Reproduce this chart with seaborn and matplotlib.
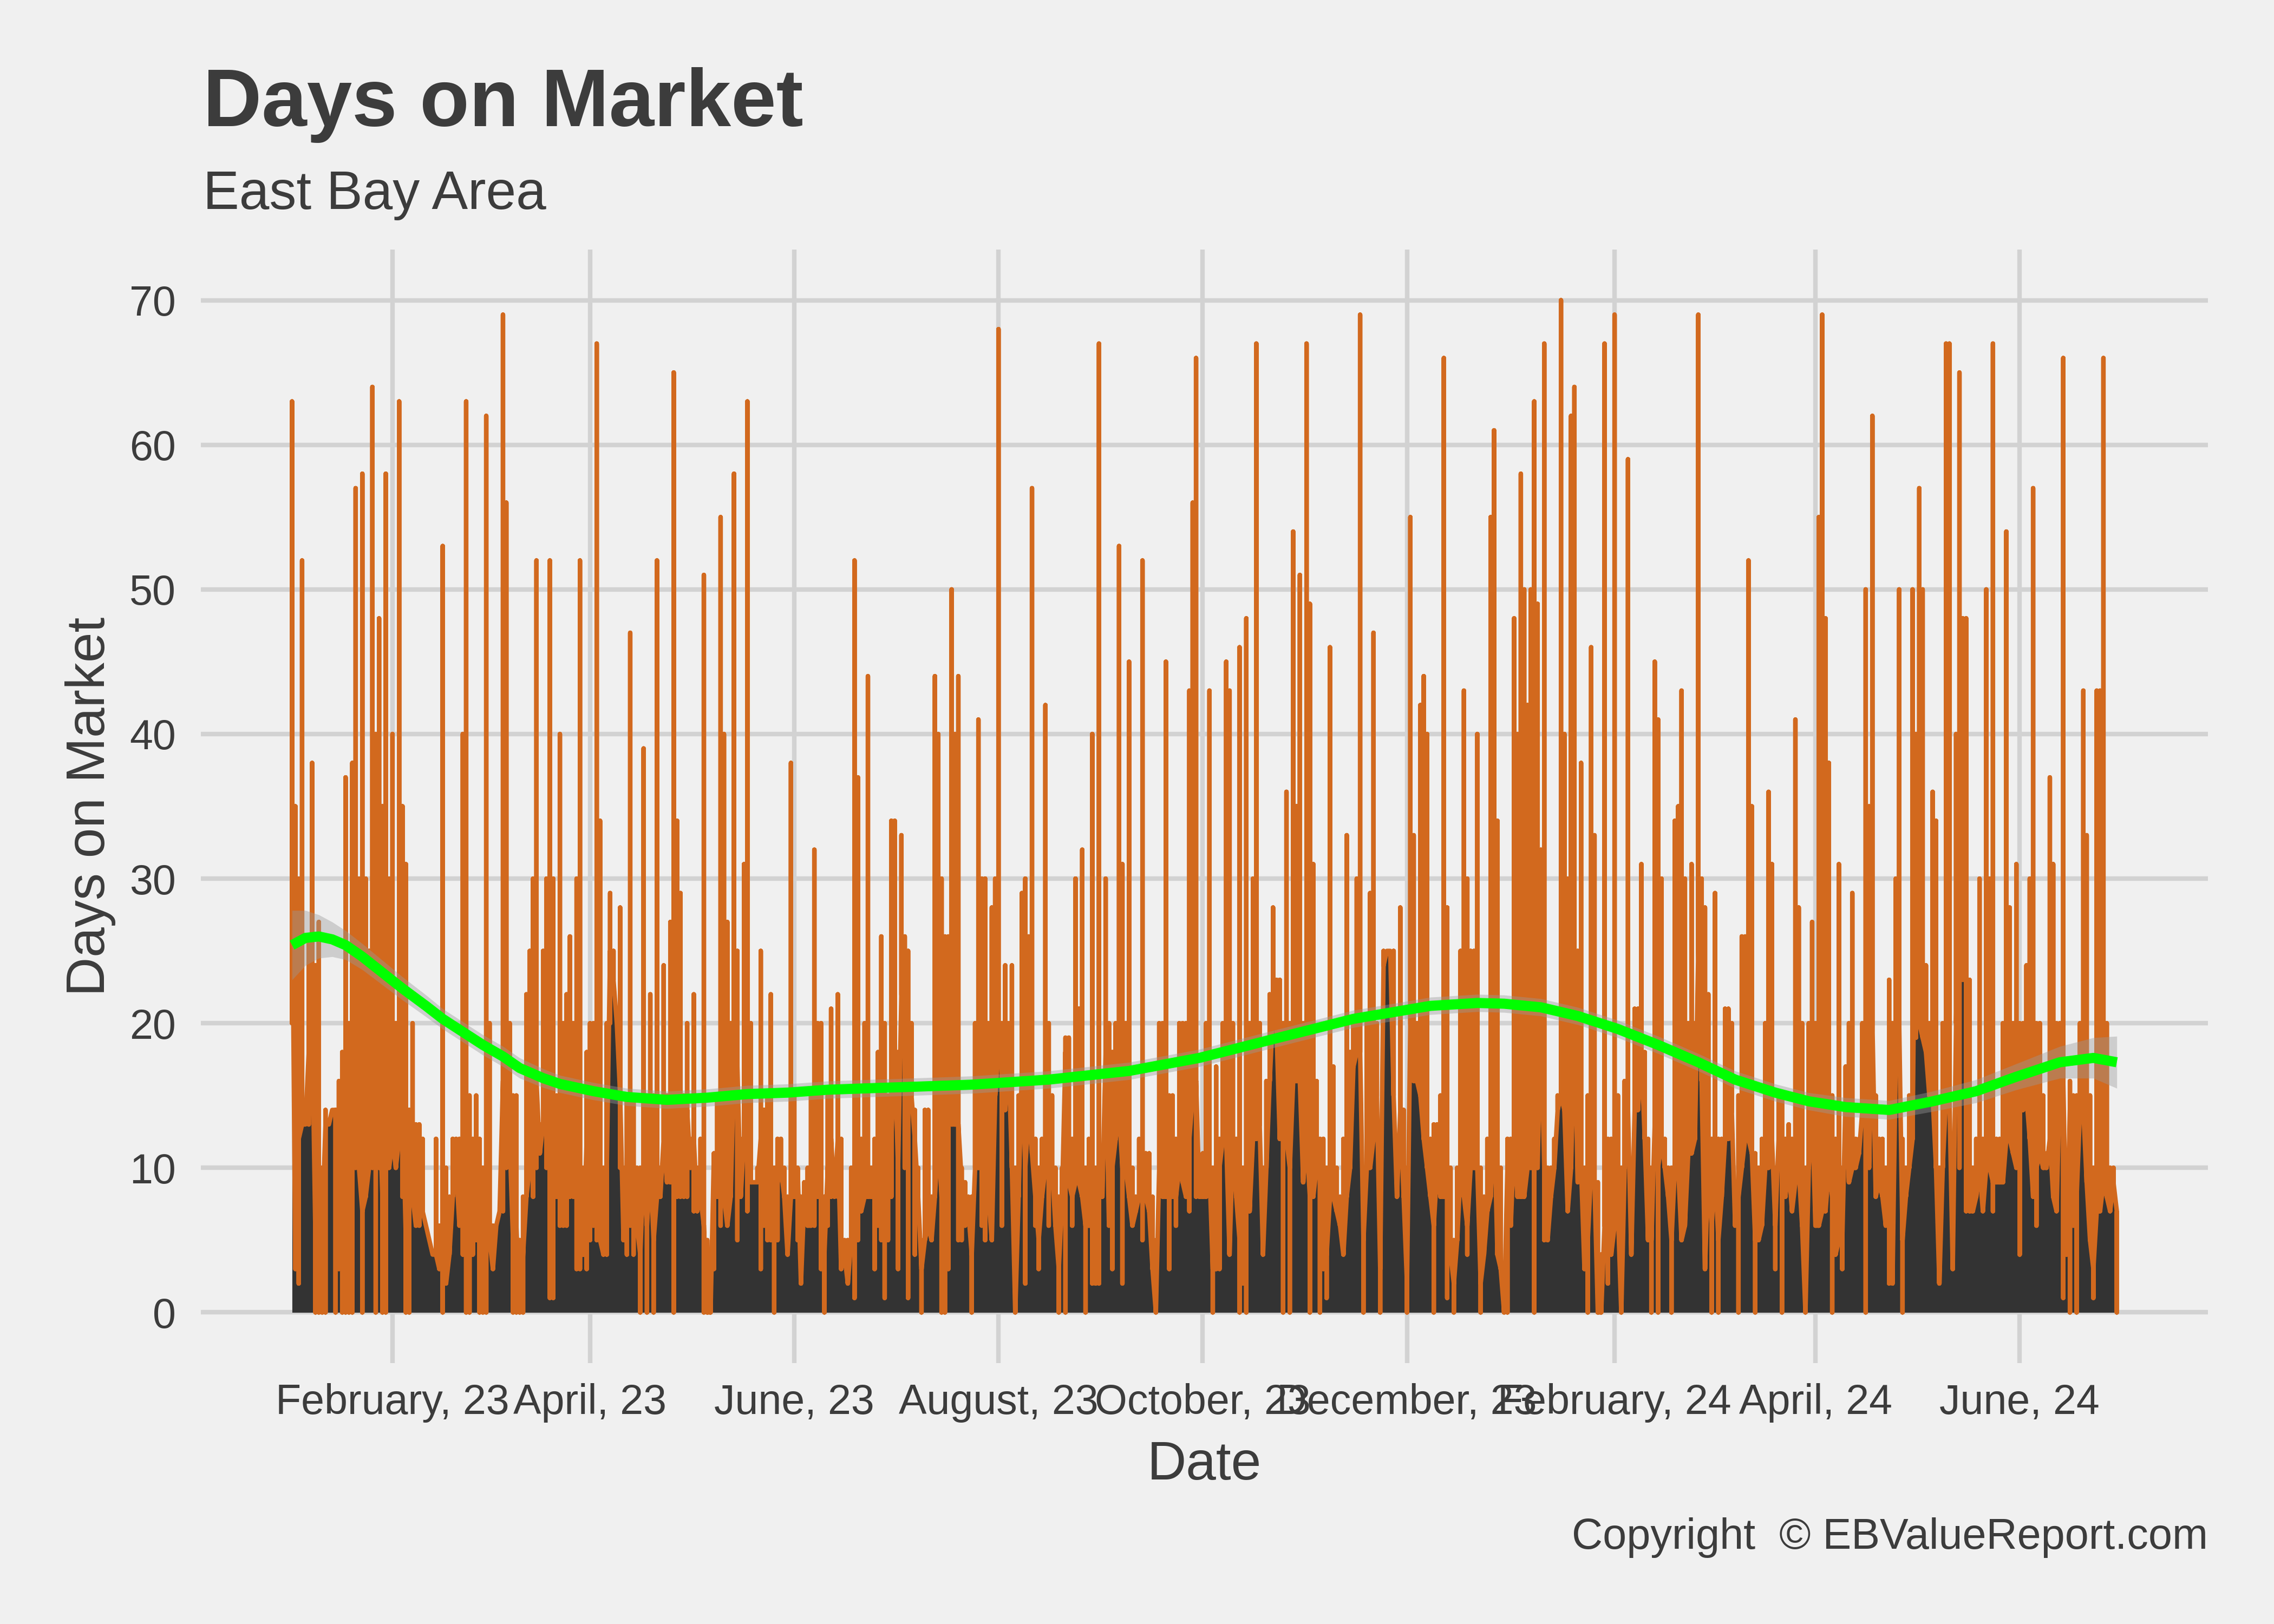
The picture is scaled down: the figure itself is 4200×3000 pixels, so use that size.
import numpy as np
import pandas as pd
import seaborn as sns
import matplotlib.pyplot as plt
import matplotlib.dates as mdates

start_date = "2023-01-02"

# daily Days on Market, one value per day from start_date
# dom_level = value the line passes between days, dom_high / dom_low = daily extremes
dom_level = [
    31, 3, 12, 13, 13, 18, 20, 5, 8, 6,
    13, 13, 14, 14, 3, 5, 10, 10, 13, 15,
    10, 7, 8, 10, 20, 10, 15, 8, 10, 10,
    12, 10, 12, 15, 5, 14, 8, 6, 10, 7,
    6, 5, 4, 4, 3, 5, 2, 4, 8, 10,
    6, 8, 6, 4, 8, 10, 6, 6, 8, 5,
    3, 6, 7, 16, 16, 12, 5, 6, 0, 4,
    8, 10, 12, 16, 11, 13, 14, 18, 10, 8,
    10, 6, 10, 17, 8, 8, 10, 4, 12, 13,
    6, 10, 5, 4, 10, 25, 23, 20, 15, 5,
    10, 6, 8, 6, 4, 10, 6, 10, 5, 8,
    8, 12, 9, 15, 10, 15, 12, 8, 14, 10,
    12, 7, 8, 6, 0, 0, 11, 8, 10, 8,
    6, 8, 17, 17, 8, 12, 12, 9, 9, 9,
    12, 6, 10, 10, 5, 9, 10, 8, 4, 8,
    8, 10, 2, 8, 6, 6, 10, 15, 8, 4,
    10, 12, 8, 12, 3, 4, 2, 5, 8, 10,
    7, 8, 8, 8, 8, 6, 10, 8, 10, 12,
    18, 10, 22, 20, 20, 15, 12, 8, 3, 5,
    6, 5, 8, 12, 8, 10, 14, 13, 13, 13,
    9, 6, 7, 4, 10, 10, 10, 20, 8, 5,
    15, 18, 18, 14, 18, 10, 0, 8, 17, 10,
    14, 11, 8, 5, 8, 10, 12, 10, 6, 3,
    8, 18, 9, 8, 9, 9, 8, 6, 6, 6,
    8, 10, 8, 18, 6, 10, 12, 14, 10, 10,
    8, 6, 7, 8, 8, 8, 7, 3, 0, 10,
    8, 8, 8, 8, 8, 10, 9, 8, 12, 15,
    16, 8, 8, 8, 10, 3, 3, 10, 12, 12,
    4, 12, 8, 5, 2, 7, 7, 12, 12, 13,
    4, 10, 16, 21, 20, 12, 12, 12, 10, 16,
    16, 16, 9, 12, 8, 8, 10, 10, 3, 4,
    8, 8, 7, 6, 4, 8, 10, 17, 18, 18,
    5, 10, 10, 12, 15, 3, 24, 25, 25, 15,
    8, 14, 8, 2, 20, 16, 16, 15, 12, 10,
    8, 6, 10, 8, 8, 10, 4, 2, 5, 10,
    8, 6, 10, 10, 10, 2, 4, 7, 8, 14,
    4, 3, 0, 10, 6, 12, 8, 8, 8, 10,
    10, 10, 10, 20, 10, 5, 8, 10, 14, 15,
    14, 7, 10, 20, 9, 10, 3, 5, 10, 9,
    0, 0, 6, 6, 4, 6, 7, 0, 10, 14,
    4, 14, 14, 18, 12, 5, 5, 13, 10, 12,
    10, 8, 5, 10, 10, 5, 6, 11, 11, 12,
    25, 16, 3, 10, 6, 10, 5, 8, 12, 12,
    14, 6, 8, 10, 12, 12, 11, 5, 5, 6,
    10, 10, 12, 6, 12, 10, 8, 10, 7, 9,
    10, 6, 0, 10, 14, 6, 6, 7, 7, 10,
    8, 4, 5, 5, 15, 9, 10, 10, 11, 14,
    14, 10, 20, 8, 9, 8, 6, 8, 2, 18,
    20, 5, 8, 10, 12, 36, 20, 19, 18, 15,
    15, 10, 2, 10, 15, 15, 3, 20, 35, 30,
    23, 7, 7, 8, 10, 7, 10, 10, 9, 9,
    9, 9, 12, 12, 11, 10, 14, 14, 15, 12,
    8, 10, 11, 10, 10, 12, 8, 7, 16, 16,
    4, 14, 6, 8, 14, 14, 9, 5, 3, 7,
    7, 9, 8, 7, 9, 7,
]
dom_high = [
    63, 35, 30, 52, 13, 26, 38, 24, 27, 10,
    14, 13, 14, 14, 16, 18, 37, 20, 38, 57,
    30, 58, 30, 25, 64, 40, 48, 35, 58, 30,
    40, 20, 63, 35, 31, 14, 20, 13, 13, 12,
    6, 5, 4, 12, 6, 53, 10, 8, 12, 12,
    12, 40, 63, 15, 12, 15, 12, 10, 62, 20,
    6, 6, 7, 69, 56, 20, 15, 15, 5, 8,
    22, 25, 30, 52, 13, 25, 30, 52, 30, 15,
    40, 20, 22, 26, 20, 30, 52, 10, 18, 20,
    20, 67, 34, 10, 20, 29, 25, 20, 28, 10,
    15, 47, 15, 10, 10, 39, 15, 22, 15, 52,
    10, 24, 15, 27, 65, 34, 29, 15, 20, 12,
    22, 10, 12, 51, 5, 3, 11, 15, 55, 40,
    27, 20, 58, 25, 12, 31, 63, 20, 9, 10,
    25, 14, 15, 22, 10, 12, 12, 10, 8, 38,
    15, 10, 8, 9, 10, 15, 32, 20, 20, 8,
    15, 21, 10, 22, 12, 5, 5, 10, 52, 37,
    12, 20, 44, 10, 12, 18, 26, 20, 15, 34,
    34, 18, 33, 26, 25, 20, 14, 10, 5, 14,
    14, 8, 44, 40, 30, 26, 26, 50, 40, 44,
    10, 9, 8, 8, 20, 41, 30, 30, 20, 28,
    30, 68, 20, 24, 20, 24, 10, 15, 29, 30,
    26, 57, 12, 10, 12, 42, 20, 15, 10, 8,
    10, 19, 19, 12, 30, 21, 32, 10, 12, 40,
    10, 67, 10, 30, 20, 18, 20, 53, 31, 20,
    45, 10, 8, 12, 52, 11, 11, 8, 5, 20,
    20, 45, 15, 15, 12, 20, 20, 20, 43, 56,
    66, 10, 11, 20, 43, 10, 17, 12, 20, 45,
    43, 20, 12, 46, 10, 48, 20, 30, 67, 20,
    10, 16, 22, 28, 23, 23, 20, 36, 20, 54,
    35, 51, 20, 67, 49, 31, 16, 12, 12, 10,
    46, 17, 10, 8, 12, 33, 18, 20, 30, 69,
    10, 20, 29, 47, 20, 10, 25, 25, 25, 25,
    10, 28, 14, 10, 55, 33, 20, 42, 44, 40,
    12, 13, 13, 15, 66, 28, 10, 5, 10, 25,
    43, 30, 25, 25, 40, 10, 8, 12, 55, 61,
    34, 10, 2, 12, 12, 48, 40, 58, 50, 42,
    50, 63, 49, 32, 67, 10, 10, 12, 15, 70,
    40, 30, 62, 64, 25, 38, 10, 15, 46, 33,
    9, 4, 67, 12, 12, 69, 15, 10, 16, 59,
    10, 21, 21, 31, 18, 12, 10, 45, 41, 30,
    12, 10, 10, 34, 35, 43, 30, 20, 31, 20,
    69, 30, 28, 22, 12, 29, 12, 12, 21, 21,
    20, 8, 15, 26, 26, 52, 35, 11, 10, 12,
    20, 36, 31, 10, 15, 15, 12, 13, 12, 41,
    28, 20, 10, 20, 27, 20, 55, 69, 48, 38,
    15, 12, 31, 10, 17, 20, 29, 12, 12, 20,
    50, 35, 62, 15, 12, 12, 10, 23, 20, 30,
    50, 12, 10, 15, 50, 40, 57, 50, 24, 20,
    36, 34, 10, 20, 67, 67, 10, 40, 65, 48,
    48, 23, 10, 12, 30, 12, 50, 30, 67, 12,
    12, 20, 54, 28, 20, 31, 20, 20, 24, 30,
    57, 20, 20, 15, 11, 37, 31, 20, 20, 66,
    10, 16, 15, 15, 20, 43, 33, 15, 10, 43,
    43, 66, 20, 10, 10, 7,
]
dom_low = [
    20, 3, 2, 13, 13, 13, 20, 0, 0, 0,
    0, 13, 14, 0, 3, 0, 0, 0, 0, 10,
    10, 0, 8, 10, 10, 0, 10, 0, 0, 10,
    12, 10, 12, 8, 0, 0, 8, 6, 6, 7,
    6, 5, 4, 4, 3, 0, 2, 4, 8, 10,
    6, 4, 0, 0, 4, 5, 0, 0, 0, 5,
    3, 6, 7, 7, 10, 12, 0, 0, 0, 0,
    8, 10, 8, 10, 11, 13, 10, 1, 1, 8,
    6, 6, 6, 8, 8, 3, 3, 4, 3, 5,
    6, 5, 5, 4, 4, 20, 23, 20, 10, 5,
    4, 6, 4, 6, 0, 10, 0, 10, 0, 8,
    8, 12, 9, 9, 0, 8, 8, 8, 8, 10,
    7, 7, 8, 0, 0, 0, 3, 8, 6, 8,
    6, 8, 17, 5, 8, 12, 7, 9, 9, 9,
    3, 6, 5, 5, 0, 5, 10, 8, 4, 8,
    8, 5, 2, 8, 6, 6, 6, 8, 3, 0,
    6, 8, 8, 8, 3, 4, 2, 5, 1, 5,
    7, 8, 8, 8, 3, 6, 5, 1, 5, 8,
    18, 3, 22, 10, 1, 15, 4, 8, 0, 5,
    6, 5, 8, 12, 0, 0, 3, 13, 13, 5,
    5, 6, 7, 0, 10, 10, 6, 5, 8, 5,
    15, 18, 6, 14, 18, 10, 0, 8, 17, 2,
    14, 11, 6, 3, 8, 10, 6, 10, 6, 0,
    8, 0, 9, 6, 9, 9, 8, 0, 6, 2,
    2, 2, 8, 18, 6, 3, 12, 14, 2, 10,
    8, 6, 7, 8, 5, 8, 7, 3, 0, 10,
    8, 8, 3, 8, 6, 10, 9, 8, 7, 15,
    8, 8, 8, 8, 10, 0, 3, 3, 12, 12,
    4, 12, 8, 0, 2, 0, 7, 12, 12, 13,
    4, 10, 16, 21, 20, 12, 0, 12, 0, 16,
    16, 16, 9, 12, 0, 8, 10, 0, 3, 1,
    8, 8, 7, 6, 4, 8, 10, 17, 18, 18,
    0, 10, 10, 12, 15, 0, 24, 25, 25, 15,
    8, 14, 8, 0, 20, 16, 16, 15, 12, 10,
    8, 0, 10, 8, 8, 1, 4, 0, 5, 10,
    8, 4, 10, 10, 10, 0, 4, 7, 8, 14,
    4, 3, 0, 0, 6, 12, 8, 8, 8, 10,
    10, 0, 10, 20, 5, 5, 8, 10, 14, 15,
    14, 7, 10, 20, 9, 10, 3, 0, 10, 9,
    0, 0, 6, 2, 4, 6, 7, 0, 10, 14,
    4, 14, 14, 18, 12, 5, 0, 13, 0, 12,
    10, 8, 0, 10, 10, 5, 6, 11, 11, 12,
    25, 16, 3, 10, 0, 10, 0, 8, 12, 12,
    14, 6, 0, 10, 12, 12, 11, 0, 5, 6,
    10, 10, 12, 3, 12, 0, 8, 10, 7, 9,
    10, 6, 0, 10, 14, 6, 6, 7, 7, 10,
    0, 4, 5, 3, 15, 9, 10, 10, 11, 14,
    0, 10, 20, 8, 9, 8, 6, 2, 2, 18,
    20, 0, 8, 10, 12, 19, 20, 19, 18, 15,
    15, 10, 2, 10, 15, 15, 3, 20, 10, 23,
    7, 7, 7, 8, 10, 7, 10, 10, 7, 9,
    9, 9, 12, 12, 11, 10, 4, 14, 15, 12,
    8, 6, 11, 10, 10, 12, 8, 7, 16, 1,
    4, 0, 6, 0, 14, 14, 9, 5, 1, 7,
    7, 9, 8, 7, 9, 0,
]

# smoothed trend (day offset, fitted value, half width of band)
trend_day = [0, 4, 8, 12, 16, 21, 27, 33, 40, 45,
             51, 57, 63, 68, 75, 80, 90, 100, 112, 124,
             136, 148, 160, 172, 185, 203, 226, 250, 271, 293,
             317, 340, 354, 362, 373, 384, 396, 408, 420, 431,
             443, 453, 464, 477, 490, 503, 515, 528, 538, 545]
trend_fit = [25.4, 25.9, 26.0, 25.8, 25.4, 24.6, 23.5, 22.4, 21.2, 20.3,
             19.4, 18.5, 17.7, 16.9, 16.2, 15.8, 15.3, 14.9, 14.7, 14.85,
             15.1, 15.2, 15.4, 15.5, 15.6, 15.75, 16.1, 16.7, 17.6, 18.9,
             20.3, 21.2, 21.4, 21.35, 21.1, 20.5, 19.6, 18.5, 17.3, 16.1,
             15.2, 14.6, 14.2, 14.0, 14.6, 15.3, 16.3, 17.3, 17.6, 17.3]
trend_band = [2.4, 1.9, 1.5, 1.2, 1.0, 0.9, 0.85, 0.8, 0.75, 0.7,
              0.7, 0.7, 0.7, 0.7, 0.65, 0.6, 0.6, 0.6, 0.6, 0.6,
              0.6, 0.6, 0.6, 0.6, 0.6, 0.6, 0.6, 0.6, 0.6, 0.6,
              0.6, 0.6, 0.6, 0.6, 0.6, 0.6, 0.6, 0.6, 0.6, 0.6,
              0.6, 0.6, 0.65, 0.65, 0.7, 0.8, 0.9, 1.1, 1.4, 1.8]

assert len(dom_level) == len(dom_high) == len(dom_low)

BG = "#F0F0F0"
GRID = "#D2D2D2"
TXT = "#3C3C3C"

sns.set_theme(style="whitegrid")
plt.rcParams['font.family'] = ['Liberation Sans', 'DejaVu Sans']

start = pd.Timestamp(start_date)
days = start + pd.to_timedelta(np.arange(len(dom_level)), unit="D")

# each day: level -> high -> low -> level, drawn at the same date
path = pd.DataFrame({
    "Date": np.repeat(days.values, 4),
    "Days on Market": np.column_stack([dom_level, dom_high, dom_low, dom_level]).ravel(),
})
trend = pd.DataFrame({
    "Date": start + pd.to_timedelta(trend_day, unit="D"),
    "fit": trend_fit,
    "lo": np.array(trend_fit) - np.array(trend_band),
    "hi": np.array(trend_fit) + np.array(trend_band),
})

fig = plt.figure(figsize=(14, 10), dpi=300)
fig.patch.set_facecolor(BG)
ax = fig.add_axes([0.0883, 0.1607, 0.8827, 0.6856])
ax.set_facecolor(BG)

ax.fill_between(path["Date"], 0, path["Days on Market"], color="#333333", lw=0, zorder=1)
sns.lineplot(data=path, x="Date", y="Days on Market", estimator=None, sort=False,
             color="#D2691E", lw=2.0, ax=ax, zorder=2, solid_capstyle="butt")
ax.fill_between(trend["Date"], trend["lo"], trend["hi"], color="#999999", alpha=0.4, lw=0, zorder=3)
sns.lineplot(data=trend, x="Date", y="fit", color="#00FF00", lw=4.5, ax=ax, zorder=4,
             solid_capstyle="butt")

# axes
ax.set_xlim(start - pd.Timedelta(days=27.25), start + pd.Timedelta(days=572.25))
ax.set_ylim(-3.5, 73.5)
ax.set_yticks(range(0, 71, 10))
ax.xaxis.set_major_locator(mdates.MonthLocator(bymonth=[2, 4, 6, 8, 10, 12]))
ax.xaxis.set_major_formatter(mdates.DateFormatter('%B, %y'))
ax.grid(True, color=GRID, lw=2.0)
ax.set_axisbelow(True)
for s in ax.spines.values():
    s.set_visible(False)
ax.tick_params(axis="both", length=0, labelsize=18.5, labelcolor=TXT)
ax.tick_params(axis="x", pad=9)
ax.tick_params(axis="y", pad=11)
ax.set_xlabel("Date", fontsize=24, color=TXT, labelpad=7.5)
ax.set_ylabel("Days on Market", fontsize=24, color=TXT, labelpad=6)

fig.text(0.0893, 0.9223, "Days on Market", fontsize=36, fontweight="bold", color=TXT, va="baseline")
fig.text(0.0893, 0.8713, "East Bay Area", fontsize=24, color=TXT, va="baseline")
fig.text(0.971, 0.0463, "Copyright  \u00a9 EBValueReport.com", fontsize=19, color=TXT,
         ha="right", va="baseline")

fig.savefig("out.png", dpi=300, facecolor=BG)
